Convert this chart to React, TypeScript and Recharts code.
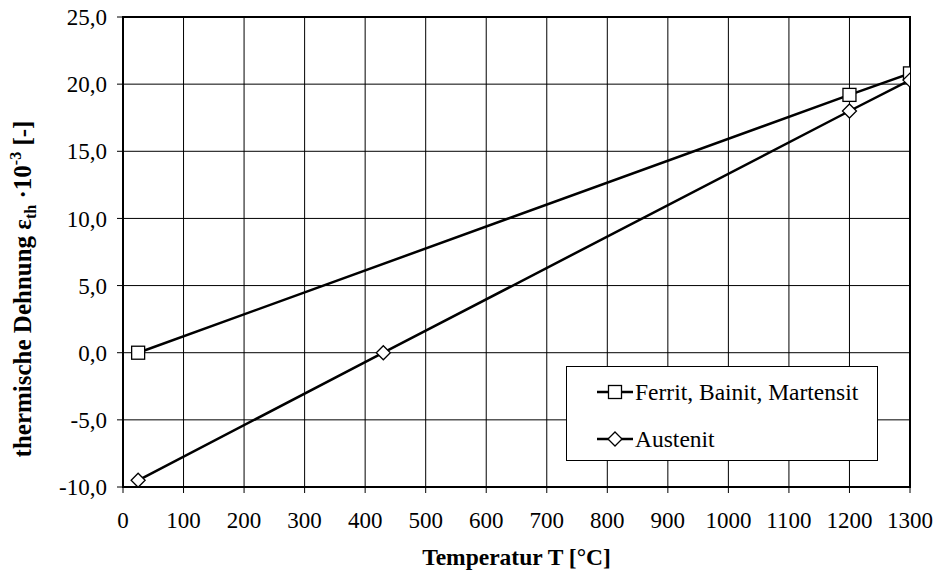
import { LineChart, Line, XAxis, YAxis, CartesianGrid, ReferenceArea } from 'recharts';

const xTicks = [0, 100, 200, 300, 400, 500, 600, 700, 800, 900, 1000, 1100, 1200, 1300];
const yTicks = [-10, -5, 0, 5, 10, 15, 20, 25];

const ferritTemp = [25, 1200, 1300];
const ferritStrain = [0, 19.2, 20.8];

const austenitTemp = [25, 430, 1200, 1300];
const austenitStrain = [-9.5, 0, 18.0, 20.3];

const seriesNames = ['Ferrit, Bainit, Martensit', 'Austenit'];

const ferritData = ferritTemp.map((t, i) => ({ t, v: ferritStrain[i] }));
const austenitData = austenitTemp.map((t, i) => ({ t, v: austenitStrain[i] }));

const FONT = '"Liberation Serif", "Times New Roman", serif';

const SquareDot = (props: any) => {
  const { cx, cy } = props;
  if (cx == null || cy == null) return null;
  return <rect x={cx - 6.5} y={cy - 6.5} width={13} height={13} fill='#fff' stroke='#000' strokeWidth={1.3} />;
};

const DiamondDot = (props: any) => {
  const { cx, cy } = props;
  if (cx == null || cy == null) return null;
  const r = 7;
  return (
    <path
      d={`M${cx},${cy - r}L${cx + r},${cy}L${cx},${cy + r}L${cx - r},${cy}Z`}
      fill='#fff'
      stroke='#000'
      strokeWidth={1.3}
    />
  );
};

// legend drawn as its own box so it doesn't eat plot height
const LegendBox = () => (
  <div
    style={{
      position: 'absolute',
      left: 566,
      top: 366,
      width: 312,
      height: 95,
      border: '1px solid #000',
      background: '#fff',
      fontFamily: FONT,
      fontSize: 23.5,
      color: '#000',
      boxSizing: 'border-box',
    }}
  >
    <div style={{ display: 'flex', alignItems: 'center', height: 24, marginTop: 13, paddingLeft: 30 }}>
      <svg width={36} height={20}>
        <line x1={0} y1={10} x2={36} y2={10} stroke='#000' strokeWidth={2.5} />
        <rect x={11.5} y={3.5} width={13} height={13} fill='#fff' stroke='#000' strokeWidth={1.3} />
      </svg>
      <span style={{ marginLeft: 2 }}>{seriesNames[0]}</span>
    </div>
    <div style={{ display: 'flex', alignItems: 'center', height: 24, marginTop: 23, paddingLeft: 30 }}>
      <svg width={36} height={20}>
        <line x1={0} y1={10} x2={36} y2={10} stroke='#000' strokeWidth={2.5} />
        <path d='M18,3L25,10L18,17L11,10Z' fill='#fff' stroke='#000' strokeWidth={1.3} />
      </svg>
      <span style={{ marginLeft: 2 }}>{seriesNames[1]}</span>
    </div>
  </div>
);

const YLabel = () => (
  <text
    x={0}
    y={0}
    transform='translate(31, 289) rotate(-90)'
    textAnchor='middle'
    fontFamily={FONT}
    fontWeight='bold'
    fontSize={25}
    fill='#000'
  >
    thermische Dehnung ε
    <tspan fontSize={16} dy={5}>th</tspan>
    <tspan dy={-5}> ·10</tspan>
    <tspan fontSize={16} dy={-10}>-3</tspan>
    <tspan dy={10}> [-]</tspan>
  </text>
);

const App = () => {
  return (
    <div style={{ position: 'absolute', left: 0, top: 0, width: 936, height: 572, background: '#fff' }}>
      <LineChart width={936} height={572} margin={{ top: 17, right: 26, left: 0, bottom: 0 }}>
        <CartesianGrid stroke='#000' strokeWidth={1} />
        <XAxis
          type='number'
          dataKey='t'
          domain={[0, 1300]}
          ticks={xTicks}
          interval={0}
          allowDataOverflow
          height={85}
          stroke='#000'
          strokeWidth={2}
          tickSize={6}
          tickMargin={19}
          tick={{ fontFamily: FONT, fontSize: 23, fill: '#000' }}
          tickLine={{ stroke: '#000', strokeWidth: 1 }}
          label={{
            value: 'Temperatur T [°C]',
            position: 'insideBottom',
            offset: 7,
            style: { fontFamily: FONT, fontSize: 23.5, fontWeight: 'bold', fill: '#000' },
          }}
        />
        <YAxis
          type='number'
          dataKey='v'
          domain={[-10, 25]}
          ticks={yTicks}
          interval={0}
          allowDataOverflow
          width={123}
          stroke='#000'
          strokeWidth={2}
          tickSize={6}
          tickMargin={10}
          tick={{ fontFamily: FONT, fontSize: 23, fill: '#000' }}
          tickLine={{ stroke: '#000', strokeWidth: 1 }}
          tickFormatter={(v: number) => v.toFixed(1).replace('.', ',')}
          label={{ content: () => <YLabel /> }}
        />
        <ReferenceArea x1={0} x2={1300} y1={-10} y2={25} fill='none' stroke='#000' strokeWidth={2} ifOverflow='visible' />
        <Line
          data={ferritData}
          dataKey='v'
          name={seriesNames[0]}
          stroke='#000'
          strokeWidth={2.5}
          dot={<SquareDot />}
          activeDot={false}
          isAnimationActive={false}
        />
        <Line
          data={austenitData}
          dataKey='v'
          name={seriesNames[1]}
          stroke='#000'
          strokeWidth={2.5}
          dot={<DiamondDot />}
          activeDot={false}
          isAnimationActive={false}
        />
      </LineChart>
      <LegendBox />
    </div>
  );
};

export default App;
